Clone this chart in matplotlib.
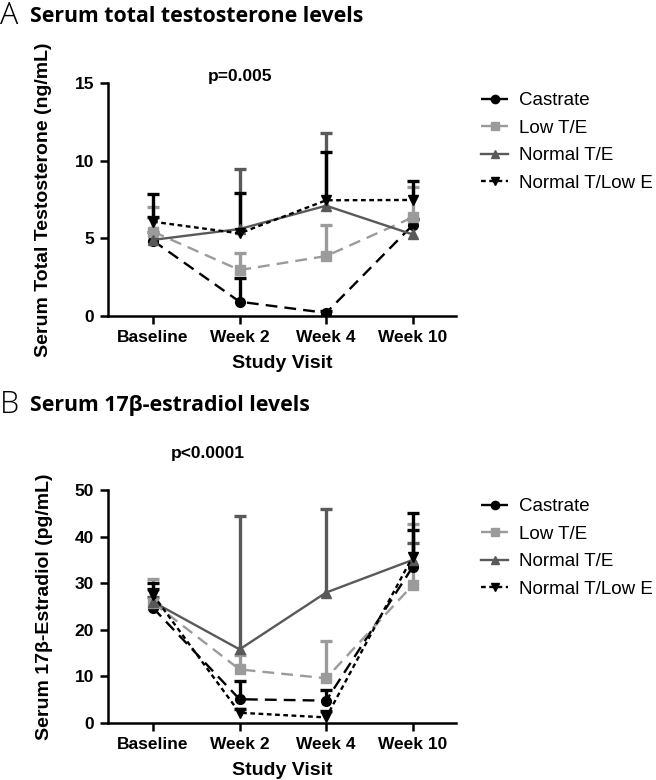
import numpy as np
import matplotlib.pyplot as plt

plt.rcParams['font.family'] = ['Liberation Sans', 'DejaVu Sans']

visits = ['Baseline', 'Week 2', 'Week 4', 'Week 10']
groups = ['Castrate', 'Low T/E', 'Normal T/E', 'Normal T/Low E']

# A: serum total testosterone (ng/mL), group means and upper error bar length
testo_mean = {
    'Castrate':       [4.85, 0.92, 0.20, 5.85],
    'Low T/E':        [5.43, 2.96, 3.86, 6.35],
    'Normal T/E':     [4.90, 5.60, 7.10, 5.25],
    'Normal T/Low E': [6.07, 5.32, 7.45, 7.47],
}
testo_err = {
    'Castrate':       [1.55, 1.50, 0.10, 0.40],
    'Low T/E':        [1.61, 1.07, 2.00, 1.93],
    'Normal T/E':     [0.50, 3.87, 4.66, 0.97],
    'Normal T/Low E': [1.77, 2.62, 3.13, 1.24],
}

# B: serum 17b-estradiol (pg/mL)
estra_mean = {
    'Castrate':       [24.7, 5.1, 4.8, 33.5],
    'Low T/E':        [25.8, 11.5, 9.6, 29.6],
    'Normal T/E':     [26.0, 15.8, 28.0, 35.0],
    'Normal T/Low E': [27.5, 2.2, 1.2, 35.7],
}
estra_err = {
    'Castrate':       [4.0, 3.9, 2.3, 8.0],
    'Low T/E':        [5.2, 3.1, 7.9, 13.2],
    'Normal T/E':     [1.0, 28.6, 17.9, 3.7],
    'Normal T/Low E': [2.6, 0.8, 1.3, 9.3],
}

styles = {
    'Castrate':       dict(color='black', marker='o', dashes=(5, 3)),
    'Low T/E':        dict(color='#9b9b9b', marker='s', dashes=(5, 3)),
    'Normal T/E':     dict(color='#595959', marker='^', dashes=()),
    'Normal T/Low E': dict(color='black', marker='v', dashes=(2, 1.5)),
}


def draw_panel(ax, means, errs, ymax, ystep, ylabel):
    x = np.arange(len(visits))
    for g in groups:
        st = styles[g]
        m = np.array(means[g])
        top = m + np.array(errs[g])
        # upper-only error bars with caps
        ax.vlines(x, m, top, color=st['color'], lw=2.4, zorder=2)
        ax.plot(x, top, ls='none', marker='_', ms=9, mew=2.4,
                color=st['color'], zorder=2)
        line, = ax.plot(x, m, color=st['color'], lw=1.7, marker=st['marker'],
                        ms=7, label=g, zorder=3)
        if st['dashes']:
            line.set_dashes(st['dashes'])
    ax.set_xlim(-0.52, 3.5)
    ax.set_ylim(0, ymax)
    ax.set_yticks(np.arange(0, ymax + 1, ystep))
    ax.set_xticks(x)
    ax.set_xticklabels(visits)
    for s in ['top', 'right']:
        ax.spines[s].set_visible(False)
    for s in ['left', 'bottom']:
        ax.spines[s].set_linewidth(1.8)
    ax.tick_params(width=1.8, length=6, labelsize=12.5, pad=4)
    for lab in ax.get_xticklabels() + ax.get_yticklabels():
        lab.set_fontweight('bold')
    ax.set_xlabel('Study Visit', fontsize=14, fontweight='bold', labelpad=7)
    ax.set_ylabel(ylabel, fontsize=14, fontweight='bold', labelpad=16)
    ax.patch.set_alpha(0)


fig = plt.figure(figsize=(6.56, 7.8), dpi=100)
W, H = 656, 780

axA = fig.add_axes([108 / W, 1 - 316 / H, 348 / W, 233 / H])
draw_panel(axA, testo_mean, testo_err, 15, 5,
           'Serum Total Testosterone (ng/mL)')
axB = fig.add_axes([108 / W, 1 - 723 / H, 348 / W, 233 / H])
draw_panel(axB, estra_mean, estra_err, 50, 10,
           'Serum 17\u03b2-Estradiol (pg/mL)')

# panel titles
fig.text(0 / W, 1 - 16 / H, 'A', fontsize=22, family='Open Sans',
         fontweight='light', va='center')
fig.text(30 / W, 1 - 16 / H, 'Serum total testosterone levels', fontsize=15.3,
         family='Open Sans', fontweight='bold', va='center')
fig.text(0 / W, 1 - 405 / H, 'B', fontsize=22, family='Open Sans',
         fontweight='light', va='center')
fig.text(30 / W, 1 - 405 / H, 'Serum 17\u03b2-estradiol levels', fontsize=15.3,
         family='Open Sans', fontweight='bold', va='center')

fig.text(240 / W, 1 - 76 / H, 'p=0.005', fontsize=12.5, fontweight='bold',
         ha='center', va='center')
fig.text(208 / W, 1 - 453 / H, 'p<0.0001', fontsize=12.5, fontweight='bold',
         ha='center', va='center')

for ax, ytop in [(axA, 92), (axB, 498)]:
    ax.legend(loc='upper left', bbox_to_anchor=(481 / W, 1 - ytop / H),
              bbox_transform=fig.transFigure, frameon=False, fontsize=13.5,
              handlelength=1.45, handletextpad=0.6, labelspacing=0.56,
              borderpad=0, borderaxespad=0, markerscale=0.85)

fig.savefig('out.png', dpi=100)
